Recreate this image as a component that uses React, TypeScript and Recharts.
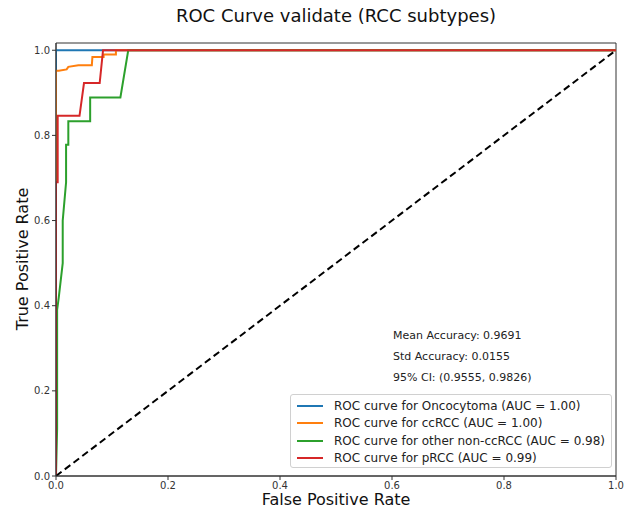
import React from "react";
import { LineChart, Line, XAxis, YAxis, ReferenceArea, Legend } from "recharts";

const FONT = "DejaVu Sans, Verdana, sans-serif";

const seriesNames = [
  "ROC curve for Oncocytoma (AUC = 1.00)",
  "ROC curve for ccRCC (AUC = 1.00)",
  "ROC curve for other non-ccRCC (AUC = 0.98)",
  "ROC curve for pRCC (AUC = 0.99)",
];
const seriesColors = ["#1f77b4", "#ff7f0e", "#2ca02c", "#d62728"];

const oncoFpr = [0, 0, 1];
const oncoTpr = [0, 1, 1];

const ccFpr = [0, 0, 0.005, 0.019, 0.022, 0.04, 0.064, 0.065, 0.085, 0.085, 0.107, 0.107, 1];
const ccTpr = [0, 0.952, 0.952, 0.955, 0.961, 0.965, 0.965, 0.984, 0.984, 0.99, 0.99, 1, 1];

const otherFpr = [0, 0.002, 0.002, 0.005, 0.012, 0.012, 0.018, 0.018, 0.022, 0.022, 0.061, 0.061, 0.115, 0.129, 1];
const otherTpr = [0, 0.111, 0.39, 0.42, 0.5, 0.6, 0.69, 0.778, 0.778, 0.833, 0.833, 0.889, 0.889, 1, 1];

const pFpr = [0, 0, 0.003, 0.003, 0.042, 0.05, 0.078, 0.084, 1];
const pTpr = [0, 0.69, 0.69, 0.846, 0.846, 0.923, 0.923, 1, 1];

const diagFpr = [0, 1];
const diagTpr = [0, 1];

const xTicks = [0, 0.2, 0.4, 0.6, 0.8, 1.0];
const yTicks = [0, 0.2, 0.4, 0.6, 0.8, 1.0];

const statsLines = ["Mean Accuracy: 0.9691", "Std Accuracy: 0.0155", "95% CI: (0.9555, 0.9826)"];

const zip = (xs: number[], ys: number[]) => xs.map((x, i) => ({ x, y: ys[i] }));

const seriesData = [
  zip(oncoFpr, oncoTpr),
  zip(ccFpr, ccTpr),
  zip(otherFpr, otherTpr),
  zip(pFpr, pTpr),
];

const renderLegend = () => (
  <div
    style={{
      border: "1px solid #d0d0d0",
      borderRadius: 3,
      background: "rgba(255,255,255,0.8)",
      padding: "2px 0 2px 6px",
      fontFamily: FONT,
      fontSize: 12,
      color: "#222",
      boxSizing: "border-box",
      width: 322,
      height: 74,
    }}
  >
    {seriesNames.map((n, i) => (
      <div key={n} style={{ display: "flex", alignItems: "center", height: 17.5 }}>
        <div style={{ width: 26, height: 2, background: seriesColors[i], marginRight: 11 }} />
        <span style={{ whiteSpace: "nowrap" }}>{n}</span>
      </div>
    ))}
  </div>
);

export default function App() {
  return (
    <div style={{ position: "absolute", left: 0, top: 0, width: 628, height: 510, background: "#fff" }}>
      <div
        style={{
          position: "absolute",
          left: 56,
          width: 560,
          top: 5,
          textAlign: "center",
          fontFamily: FONT,
          fontSize: 18,
          color: "#111",
        }}
      >
        ROC Curve validate (RCC subtypes)
      </div>
      <LineChart
        width={628}
        height={510}
        margin={{ top: 43, right: 12, left: 0, bottom: 0 }}
        style={{ position: "absolute", left: 0, top: 0 }}
      >
        <XAxis
          type="number"
          dataKey="x"
          domain={[0, 1]}
          ticks={xTicks}
          tickFormatter={(v: number) => v.toFixed(1)}
          height={34}
          tickSize={4}
          tickMargin={2}
          stroke="#333"
          tick={{ fontFamily: FONT, fontSize: 10, fill: "#333" }}
          allowDataOverflow
        />
        <YAxis
          type="number"
          dataKey="y"
          domain={[0, 1.017]}
          ticks={yTicks}
          tickFormatter={(v: number) => v.toFixed(1)}
          width={56}
          tickSize={4}
          tickMargin={2}
          stroke="#333"
          tick={{ fontFamily: FONT, fontSize: 10, fill: "#333" }}
          allowDataOverflow
        />
        {seriesData.map((d, i) => (
          <Line
            key={seriesNames[i]}
            data={d}
            dataKey="y"
            name={seriesNames[i]}
            type="linear"
            stroke={seriesColors[i]}
            strokeWidth={2}
            dot={false}
            activeDot={false}
            isAnimationActive={false}
          />
        ))}
        <Line
          data={zip(diagFpr, diagTpr)}
          dataKey="y"
          name="diag"
          type="linear"
          stroke="#000"
          strokeWidth={2}
          strokeDasharray="7 4"
          dot={false}
          activeDot={false}
          legendType="none"
          isAnimationActive={false}
        />
        <ReferenceArea x1={0} x2={1} y1={0} y2={1.017} fill="none" stroke="#333" strokeWidth={1} ifOverflow="visible" />
        <Legend
          layout="horizontal"
          verticalAlign="middle"
          align="center"
          content={renderLegend}
          wrapperStyle={{ position: "absolute", left: 290, top: 394, width: 322, height: 74 }}
        />
      </LineChart>
      {statsLines.map((s, i) => (
        <div
          key={s}
          style={{
            position: "absolute",
            left: 393,
            top: 329 + i * 21,
            fontFamily: FONT,
            fontSize: 11,
            color: "#222",
            whiteSpace: "nowrap",
          }}
        >
          {s}
        </div>
      ))}
      <div
        style={{
          position: "absolute",
          left: 56,
          width: 560,
          top: 490,
          textAlign: "center",
          fontFamily: FONT,
          fontSize: 16,
          color: "#111",
        }}
      >
        False Positive Rate
      </div>
      <div
        style={{
          position: "absolute",
          left: 22,
          top: 259,
          transform: "translate(-50%, -50%) rotate(-90deg)",
          fontFamily: FONT,
          fontSize: 16,
          color: "#111",
          whiteSpace: "nowrap",
        }}
      >
        True Positive Rate
      </div>
    </div>
  );
}
